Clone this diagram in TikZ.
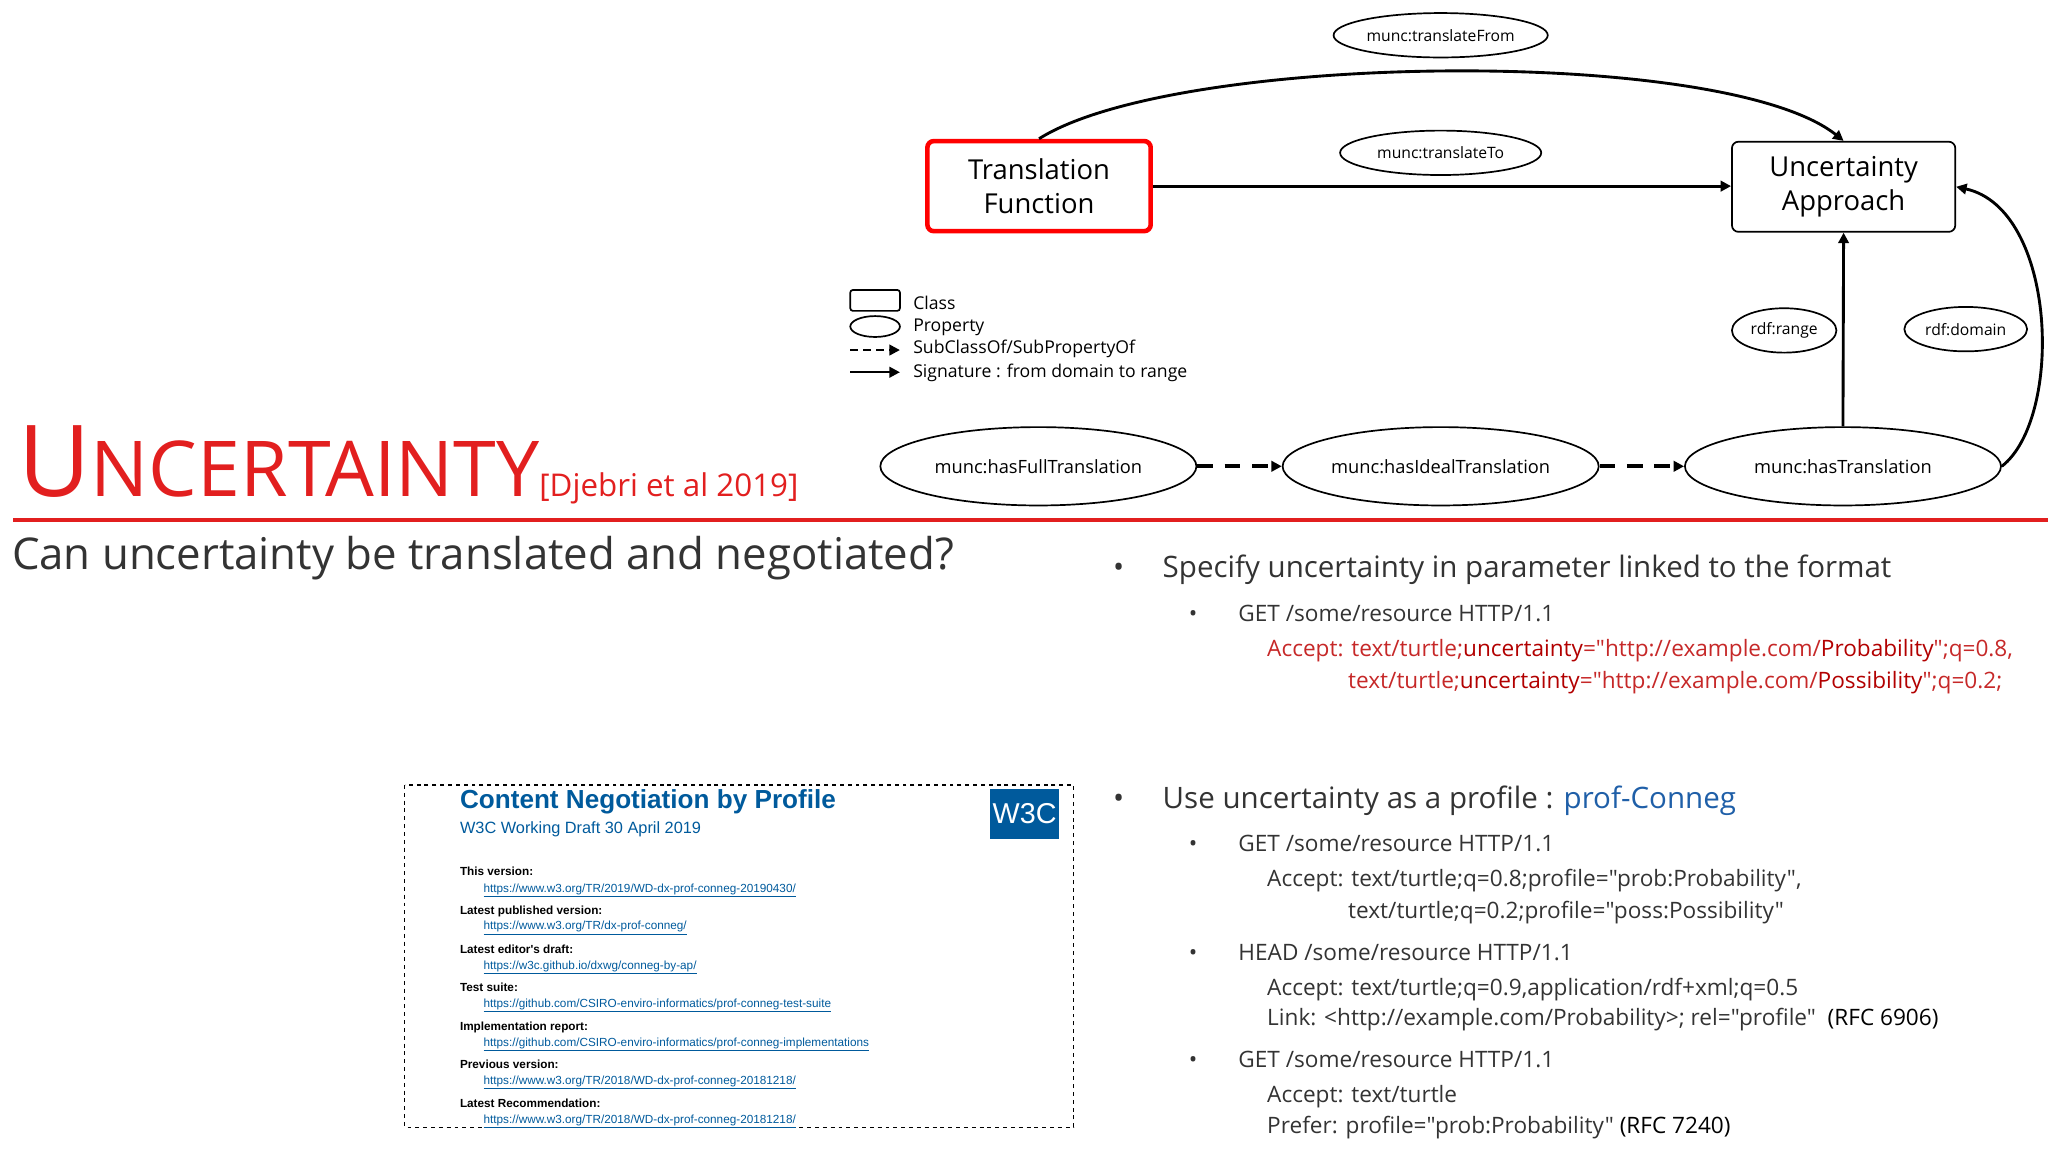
\documentclass[tikz,border=0pt]{standalone}
\usepackage{fontspec}
\setmainfont{Open Sans}[Mapping={}]
\newfontfamily\arial{Liberation Sans}
\usetikzlibrary{shapes.geometric,arrows.meta}
\definecolor{tx}{HTML}{333333}
\definecolor{rd}{HTML}{C62828}
\definecolor{rl}{HTML}{E21F1F}
\definecolor{bl}{HTML}{1F5FA8}
\definecolor{w3}{HTML}{005A9C}
\newcommand\qq{\symbol{34}}
\tikzset{
 prop/.style={ellipse,draw,line width=1.3pt,inner sep=0pt,font=\fontsize{12}{12}\selectfont},
 cls/.style={draw,line width=1.3pt,rounded corners=5pt,minimum width=171pt,minimum height=69pt,align=center,font=\fontsize{21}{26}\selectfont},
 arr/.style={-{Triangle[length=8pt,width=8pt]},line width=2.2pt},
 txt/.style={anchor=base west,inner sep=0pt,text=tx},
 lnk/.style={anchor=base west,inner sep=0pt,font=\arial\fontsize{9}{9}\selectfont,text=w3},
 lbl/.style={anchor=base west,inner sep=0pt,font=\arial\bfseries\fontsize{9}{9}\selectfont},
}
\begin{document}
\begin{tikzpicture}[x=1pt,y=-1pt]
\useasboundingbox (0,0) rectangle (1568,882);
% diagram
\node[prop,minimum width=164pt,minimum height=34pt] (tf) at (1103,27) {munc:translateFrom};
\node[prop,minimum width=154pt,minimum height=34pt] (tt) at (1103,117) {munc:translateTo};
\node[cls,draw=red,line width=3.5pt] (TF) at (795.5,142.5) {Translation\\Function};
\node[cls] (UA) at (1411.5,143) {Uncertainty\\Approach};
\node[prop,minimum width=80pt,minimum height=34pt] (rr) at (1366,253) {rdf:range};
\node[prop,minimum width=94pt,minimum height=34pt] (rd) at (1505,252) {rdf:domain};
\node[prop,minimum width=242pt,minimum height=60pt,font=\fontsize{14}{14}\selectfont] (hf) at (795,357) {munc:hasFullTranslation};
\node[prop,minimum width=242pt,minimum height=60pt,font=\fontsize{14}{14}\selectfont] (hi) at (1103,357) {munc:hasIdealTranslation};
\node[prop,minimum width=242pt,minimum height=60pt,font=\fontsize{14}{14}\selectfont] (ht) at (1411,357) {munc:hasTranslation};
\draw[arr] (TF.east) -- (UA.west|-TF.east);
\draw[arr] (TF.north) .. controls (900,40) and (1320,35) .. (UA.north);
\draw[arr,line width=3pt,dash pattern=on 12pt off 9pt] (hf.east) -- (hi.west);
\draw[arr,line width=3pt,dash pattern=on 12pt off 9pt] (hi.east) -- (ht.west);
\draw[arr] (ht.north) -- (UA.south);
\draw[arr] (ht.east) .. controls (1580,320) and (1575,160) .. (UA.east);
% legend
\draw[line width=1.3pt,rounded corners=2pt] (651,222) rectangle (689,238);
\draw[line width=1.3pt] (670,250) ellipse (19 and 8);
\coordinate (l1) at (651,268); \coordinate (l2) at (689,268);
\coordinate (l3) at (651,285); \coordinate (l4) at (689,285);
\draw[arr,line width=1.8pt,dash pattern=on 6pt off 4pt] (l1) -- (l2);
\draw[arr,line width=1.8pt] (l3) -- (l4);
\tikzset{lg/.style={txt,text=black,font=\fontsize{13.5}{14}\selectfont}}
\node[lg] at (699,237) {Class};
\node[lg] at (699,254) {Property};
\node[lg] at (699,271) {SubClassOf/SubPropertyOf};
\node[lg] at (699,289) {Signature : from domain to range};
% title
\node[txt,text=rl] at (14,380) {\fontsize{76}{76}\selectfont U\fontsize{59}{59}\selectfont NCERTAINTY\fontsize{24}{24}\selectfont[Djebri et al 2019]};
\draw[rl,line width=3pt] (10,398) -- (1568,398);
\node[txt,font=\fontsize{33.5}{34}\selectfont] at (9,436) {Can uncertainty be translated and negotiated?};
% right text
\tikzset{b1/.style={txt,font=\fontsize{22.6}{25}\selectfont},b2/.style={txt,font=\fontsize{17.3}{19}\selectfont}}
\node[b1] at (852,442) {•}; \node[b1] at (890,442) {Specify uncertainty in parameter linked to the format};
\node[b2] at (910,476) {•}; \node[b2] at (948,476) {GET /some/resource HTTP/1.1};
\node[b2,text=rd] at (970,503) {Accept: text/turtle;\textcolor{red!70!black}{uncertainty}=\qq http://example.com/\textcolor{red!70!black}{Probability}\qq;q=0.8,};
\node[b2,text=rd] at (1032,527) {text/turtle;\textcolor{red!70!black}{uncertainty}=\qq http://example.com/\textcolor{red!70!black}{Possibility}\qq;q=0.2;};
\node[b1] at (852,619) {•}; \node[b1] at (890,619) {Use uncertainty as a profile : \textcolor{bl}{prof-Conneg}};
\node[b2] at (910,652) {•}; \node[b2] at (948,652) {GET /some/resource HTTP/1.1};
\node[b2] at (970,679) {Accept: text/turtle;q=0.8;profile=\qq prob:Probability\qq,};
\node[b2] at (1032,703) {text/turtle;q=0.2;profile=\qq poss:Possibility\qq};
\node[b2] at (910,735) {•}; \node[b2] at (948,735) {HEAD /some/resource HTTP/1.1};
\node[b2] at (970,762) {Accept: text/turtle;q=0.9,application/rdf+xml;q=0.5};
\node[b2] at (970,785) {Link: <http://example.com/Probability>; rel=\qq profile\qq~~\textcolor{black}{(RFC 6906)}};
\node[b2] at (910,817) {•}; \node[b2] at (948,817) {GET /some/resource HTTP/1.1};
\node[b2] at (970,844) {Accept: text/turtle};
\node[b2] at (970,868) {Prefer: profile=\qq prob:Probability\qq{} \textcolor{black}{(RFC 7240)}};
% W3C box
\draw[thick,dashed] (310,601) rectangle (822,863);
\node[txt,text=w3,font=\arial\bfseries\fontsize{20}{20}\selectfont] at (352,619) {Content Negotiation by Profile};
\node[txt,text=w3,font=\arial\fontsize{12.5}{12.5}\selectfont] at (352,638) {W3C Working Draft 30 April 2019};
\node[fill=w3,minimum width=53pt,minimum height=38pt,text=white,font=\arial\fontsize{22}{22}\selectfont,inner sep=0pt] (w3c) at (784.5,623) {W3C};
\node[lbl] at (352,670) {This version:};
\node[lnk] at (370,683) {\underline{https://www.w3.org/TR/2019/WD-dx-prof-conneg-20190430/}};
\node[lbl] at (352,700) {Latest published version:};
\node[lnk] at (370,712) {\underline{https://www.w3.org/TR/dx-prof-conneg/}};
\node[lbl] at (352,730) {Latest editor's draft:};
\node[lnk] at (370,742) {\underline{https://w3c.github.io/dxwg/conneg-by-ap/}};
\node[lbl] at (352,759) {Test suite:};
\node[lnk] at (370,771) {\underline{https://github.com/CSIRO-enviro-informatics/prof-conneg-test-suite}};
\node[lbl] at (352,789) {Implementation report:};
\node[lnk] at (370,801) {\underline{https://github.com/CSIRO-enviro-informatics/prof-conneg-implementations}};
\node[lbl] at (352,818) {Previous version:};
\node[lnk] at (370,830) {\underline{https://www.w3.org/TR/2018/WD-dx-prof-conneg-20181218/}};
\node[lbl] at (352,848) {Latest Recommendation:};
\node[lnk] at (370,860) {\underline{https://www.w3.org/TR/2018/WD-dx-prof-conneg-20181218/}};
\end{tikzpicture}
\end{document}
